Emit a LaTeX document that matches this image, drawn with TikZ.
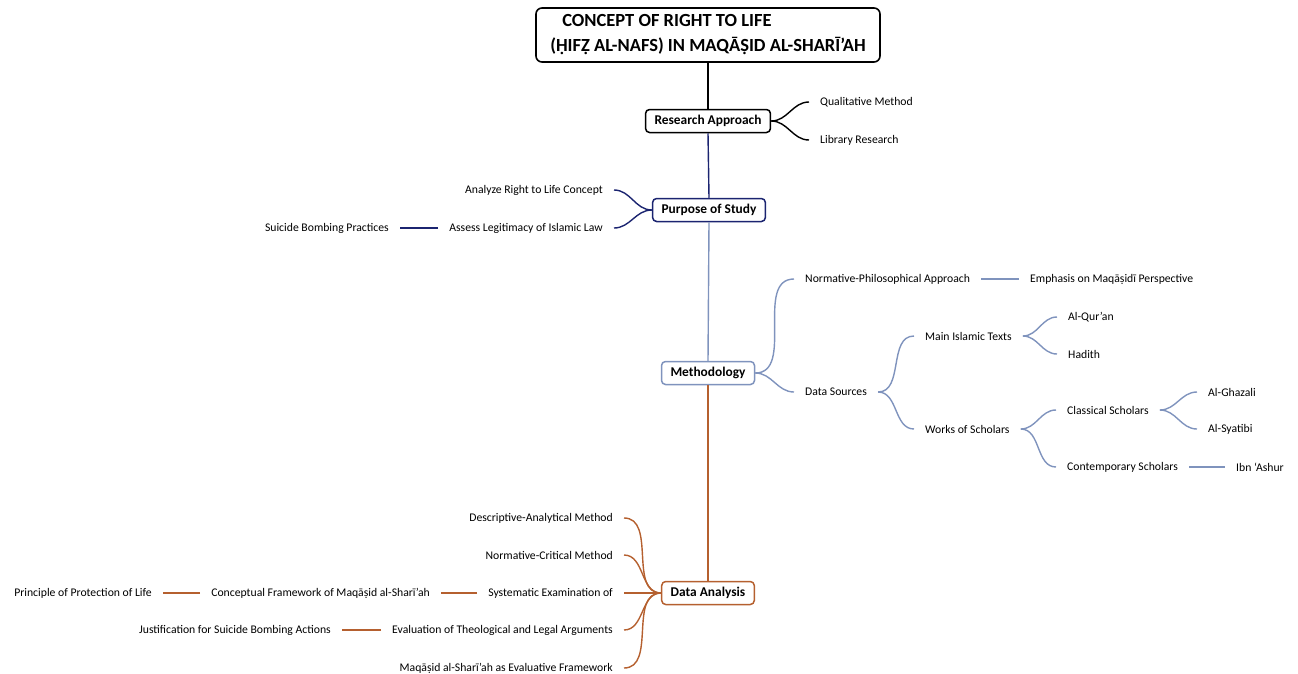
\documentclass[tikz,border=0pt]{standalone}
\usepackage{fontspec}
\setmainfont{Carlito}
\definecolor{navy}{HTML}{1B2470}
\definecolor{steel}{HTML}{7F93BD}
\definecolor{rust}{HTML}{B5602F}
\begin{document}
\begin{tikzpicture}[x=1pt,y=-1pt,
  box/.style={draw, rounded corners=4pt, line width=1.5pt, fill=white,
    font=\bfseries\fontsize{13.4}{15}\selectfont, inner xsep=9pt, inner ysep=0pt, minimum height=23pt},
  leaf/.style={font=\fontsize{11.7}{13}\selectfont, inner xsep=11pt, inner ysep=2pt},
  link/.style={line width=1.4pt},
  curve/.style={link, out=0, in=180},
  lcurve/.style={link, out=180, in=0}]
\useasboundingbox (0,0) rectangle (1298,673);
% root
\node[draw, rounded corners=6pt, line width=1.6pt, minimum width=344pt, minimum height=54pt,
  align=left, font=\bfseries\fontsize{18.5}{25}\selectfont] (root) at (708,35)
  {\hspace{12pt}CONCEPT OF RIGHT TO LIFE\\(ḤIFẒ AL-NAFS) IN MAQĀṢID AL-SHARĪ’AH};
% main boxes
\node[box, draw=black] (ra) at (708,121) {Research Approach};
\node[box, draw=navy] (ps) at (709,210) {Purpose of Study};
\node[box, draw=steel] (me) at (708,373) {Methodology};
\node[box, draw=rust] (da) at (708,593) {Data Analysis};
% trunk
\draw[link, black] (root.south) -- (ra.north);
\draw[link, navy] (ra.south) -- (ps.north);
\draw[link, steel] (ps.south) -- (me.north);
\draw[link, rust] (me.south) -- (da.north);
% research approach
\node[leaf, anchor=west] (qm) at (809,102) {Qualitative Method};
\node[leaf, anchor=west] (lr) at (809,140) {Library Research};
\draw[curve, black] (ra.east) to (qm.west);
\draw[curve, black] (ra.east) to (lr.west);
% purpose
\node[leaf, anchor=east] (ar) at (614,190) {Analyze Right to Life Concept};
\node[leaf, anchor=east] (al) at (614,228) {Assess Legitimacy of Islamic Law};
\node[leaf, anchor=east] (sb) at (400,228) {Suicide Bombing Practices};
\draw[lcurve, navy] (ps.west) to (ar.east);
\draw[lcurve, navy] (ps.west) to (al.east);
\draw[link, navy] (al.west) -- (sb.east);
% methodology
\node[leaf, anchor=west] (np) at (794,279) {Normative-Philosophical Approach};
\node[leaf, anchor=west] (em) at (1019,279) {Emphasis on Maqāṣidī Perspective};
\node[leaf, anchor=west] (ds) at (794,392) {Data Sources};
\node[leaf, anchor=west] (mt) at (914,336) {Main Islamic Texts};
\node[leaf, anchor=west] (ws) at (914,429) {Works of Scholars};
\node[leaf, anchor=west] (qu) at (1057,317) {Al-Qur’an};
\node[leaf, anchor=west] (ha) at (1057,354) {Hadith};
\node[leaf, anchor=west] (cs) at (1056,410) {Classical Scholars};
\node[leaf, anchor=west] (co) at (1056,467) {Contemporary Scholars};
\node[leaf, anchor=west] (gh) at (1197,392) {Al-Ghazali};
\node[leaf, anchor=west] (sy) at (1197,429) {Al-Syatibi};
\node[leaf, anchor=west] (ia) at (1225,467) {Ibn ‘Ashur};
\draw[curve, steel] (me.east) to (np.west);
\draw[curve, steel] (me.east) to (ds.west);
\draw[link, steel] (np.east) -- (em.west);
\draw[curve, steel] (ds.east) to (mt.west);
\draw[curve, steel] (ds.east) to (ws.west);
\draw[curve, steel] (mt.east) to (qu.west);
\draw[curve, steel] (mt.east) to (ha.west);
\draw[curve, steel] (ws.east) to (cs.west);
\draw[curve, steel] (ws.east) to (co.west);
\draw[curve, steel] (cs.east) to (gh.west);
\draw[curve, steel] (cs.east) to (sy.west);
\draw[link, steel] (co.east) -- (ia.west);
% data analysis
\node[leaf, anchor=east] (dm) at (624,518) {Descriptive-Analytical Method};
\node[leaf, anchor=east] (nc) at (624,555) {Normative-Critical Method};
\node[leaf, anchor=east] (se) at (624,593) {Systematic Examination of};
\node[leaf, anchor=east] (ev) at (624,630) {Evaluation of Theological and Legal Arguments};
\node[leaf, anchor=east] (mf) at (624,668) {Maqāṣid al-Sharī’ah as Evaluative Framework};
\node[leaf, anchor=east] (cf) at (441,593) {Conceptual Framework of Maqāṣid al-Sharī’ah};
\node[leaf, anchor=east] (pp) at (163,593) {Principle of Protection of Life};
\node[leaf, anchor=east] (js) at (342,630) {Justification for Suicide Bombing Actions};
\draw[lcurve, rust] (da.west) to (dm.east);
\draw[lcurve, rust] (da.west) to (nc.east);
\draw[lcurve, rust] (da.west) to (se.east);
\draw[lcurve, rust] (da.west) to (ev.east);
\draw[lcurve, rust] (da.west) to (mf.east);
\draw[link, rust] (se.west) -- (cf.east);
\draw[link, rust] (cf.west) -- (pp.east);
\draw[link, rust] (ev.west) -- (js.east);
\end{tikzpicture}
\end{document}
